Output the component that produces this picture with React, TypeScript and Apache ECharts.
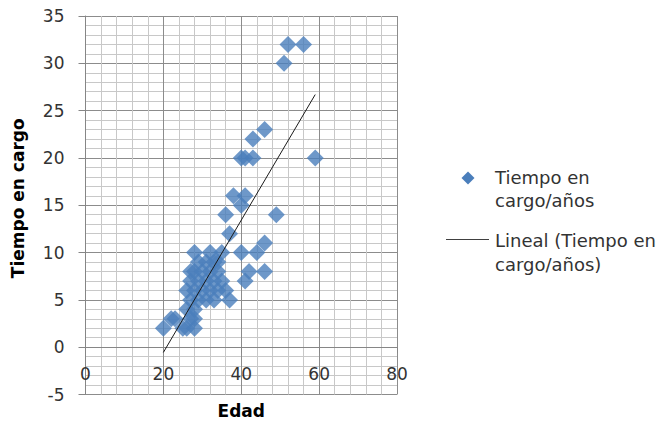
import React, { useEffect, useRef } from "react";
import * as echarts from "echarts";

// Scatter data: Edad (age) vs Tiempo en cargo (years in position)
const ages: number[] = [
  52, 56, 51, 59, 46, 43, 40, 41, 43, 38, 41, 40, 36, 49, 37, 46, 40, 44, 46, 42, 41, 37,
  20, 22, 23, 25, 26, 27, 28, 28, 28, 26,
  27, 29, 31, 26, 28, 30, 32, 34, 36, 33,
  27, 29, 31, 33, 35,
  27, 28, 30, 32, 34,
  29, 31, 33, 34,
  28, 32, 35,
];
const years: number[] = [
  32, 32, 30, 20, 23, 22, 20, 20, 20, 16, 16, 15, 14, 14, 12, 11, 10, 10, 8, 8, 7, 5,
  2, 3, 3, 2, 2, 3, 2, 3, 4, 4,
  5, 5, 5, 6, 6, 6, 6, 6, 6, 5,
  7, 7, 7, 7, 7,
  8, 8, 8, 8, 8,
  9, 9, 9, 9,
  10, 10, 10,
];
// Linear trend line endpoints
const trendAges: number[] = [20, 59];
const trendYears: number[] = [-0.55, 26.7];

const seriesName = "Tiempo en cargo/años";
const trendName = "Lineal (Tiempo en cargo/años)";
const xTitle = "Edad";
const yTitle = "Tiempo en cargo";

const FONT = "'DejaVu Sans', 'Open Sans', sans-serif";

const GRID_TOP = 16;
const GRID_H = 378.5;
const Y_MIN = -5;
const Y_MAX = 35;

export default function App() {
  const ref = useRef<HTMLDivElement>(null);
  useEffect(() => {
    if (!ref.current) return;
    const chart = echarts.init(ref.current, undefined, { renderer: "svg" });
    const points = ages.map((a, i) => [a, years[i]]);
    const trend = trendAges.map((a, i) => [a, trendYears[i]]);
    // distance (px) from the bottom of the plot to the value 0, so that the x axis crosses at 0
    const zeroOffset = ((0 - Y_MIN) / (Y_MAX - Y_MIN)) * GRID_H;
    chart.setOption({
      animation: false,
      backgroundColor: "#ffffff",
      textStyle: { fontFamily: FONT },
      grid: { left: 85.5, top: GRID_TOP, width: 311.5, height: GRID_H, outerBoundsMode: "none", containLabel: false },
      xAxis: {
        type: "value",
        min: 0,
        max: 80,
        interval: 20,
        offset: -zeroOffset,
        name: xTitle,
        nameLocation: "middle",
        nameGap: 55,
        nameTextStyle: { fontSize: 17, fontWeight: "bold", color: "#000", fontFamily: FONT },
        axisLine: { show: true, onZero: false, lineStyle: { color: "#868686", width: 1 } },
        axisTick: { show: true, inside: false, length: 6, lineStyle: { color: "#868686" } },
        axisLabel: { margin: 18, fontSize: 17, color: "#333", fontFamily: FONT },
        splitLine: { show: true, lineStyle: { color: "#8c8c8c", width: 1 } },
        minorTick: { show: false, splitNumber: 5 },
        minorSplitLine: { show: true, lineStyle: { color: "#c8c8c8", width: 1 } },
      },
      yAxis: {
        type: "value",
        min: Y_MIN,
        max: Y_MAX,
        interval: 5,
        name: yTitle,
        nameLocation: "middle",
        nameGap: 59,
        nameTextStyle: { fontSize: 17, fontWeight: "bold", color: "#000", fontFamily: FONT, padding: [0, 0, 0, 14] },
        axisLine: { show: true, onZero: false, lineStyle: { color: "#868686", width: 1 } },
        axisTick: { show: true, inside: false, length: 7, lineStyle: { color: "#868686" } },
        axisLabel: { margin: 21, fontSize: 17, color: "#333", fontFamily: FONT },
        splitLine: { show: true, lineStyle: { color: "#8c8c8c", width: 1 } },
        minorTick: { show: false, splitNumber: 5 },
        minorSplitLine: { show: true, lineStyle: { color: "#c8c8c8", width: 1 } },
      },
      series: [
        {
          name: seriesName,
          type: "scatter",
          symbol: "diamond",
          symbolSize: 17,
          itemStyle: { color: "#4a7ebb" },
          data: points,
          z: 2,
        },
        {
          name: trendName,
          type: "line",
          showSymbol: false,
          symbol: "none",
          lineStyle: { color: "#1a1a1a", width: 1 },
          data: trend,
          z: 3,
        },
      ],
      graphic: [
        {
          type: "polygon",
          shape: { points: [[468, 171.5], [474.5, 178], [468, 184.5], [461.5, 178]] },
          style: { fill: "#4a7ebb" },
        },
        {
          type: "line",
          shape: { x1: 446, y1: 239.5, x2: 489, y2: 239.5 },
          style: { stroke: "#404040", lineWidth: 1 },
        },
        {
          type: "text",
          x: 495,
          y: 166,
          style: {
            text: "Tiempo en\ncargo/años",
            fontSize: 18,
            lineHeight: 23,
            fill: "#333",
            fontFamily: FONT,
          },
        },
        {
          type: "text",
          x: 495,
          y: 228,
          style: {
            text: "Lineal (Tiempo en\ncargo/años)",
            fontSize: 18,
            lineHeight: 24,
            fill: "#333",
            fontFamily: FONT,
          },
        },
      ],
    });
    return () => chart.dispose();
  }, []);
  return (
    <div
      ref={ref}
      style={{ position: "fixed", left: 0, top: 0, width: 665, height: 422, background: "#fff" }}
    />
  );
}
